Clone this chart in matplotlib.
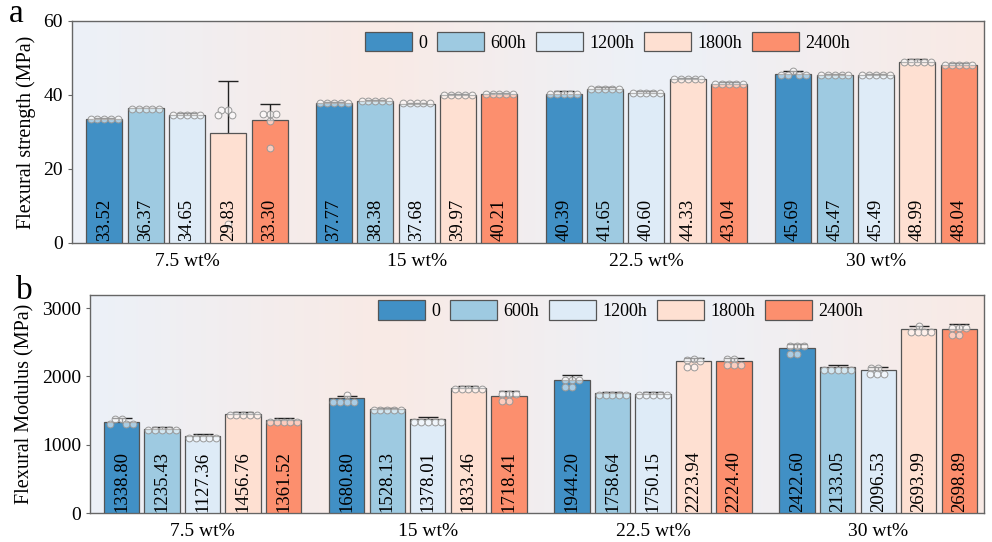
import matplotlib
matplotlib.use('Agg')
import matplotlib.pyplot as plt
import numpy as np
from matplotlib.colors import LinearSegmentedColormap

plt.rcParams['font.family'] = ['Liberation Serif', 'DejaVu Serif']

groups = ['7.5 wt%', '15 wt%', '22.5 wt%', '30 wt%']
times = ['0', '600h', '1200h', '1800h', '2400h']
colors = ['#4190c5', '#9ecae1', '#deebf7', '#fee0d2', '#fc8f6e']

# flexural strength (MPa), one row per group, one column per ageing time
strength_mean = [[33.52, 36.37, 34.65, 29.83, 33.30],
                 [37.77, 38.38, 37.68, 39.97, 40.21],
                 [40.39, 41.65, 40.60, 44.33, 43.04],
                 [45.69, 45.47, 45.49, 48.99, 48.04]]
strength_err = [[0.3, 0.2, 0.55, 13.9, 4.2],
                [0.45, 0.2, 0.2, 0.4, 0.2],
                [0.6, 0.55, 0.5, 0.3, 0.6],
                [0.7, 0.2, 0.3, 0.6, 0.65]]
strength_pts = [
    [[33.5, 33.5, 33.5, 33.5, 33.5], [36.3, 36.3, 36.3, 36.3, 36.3],
     [34.6, 34.6, 34.6, 34.6, 34.6], [36.0, 36.0, 34.5, 34.5, 5.0],
     [34.8, 34.8, 34.8, 32.9, 25.7]],
    [[37.7, 37.7, 37.7, 37.7, 37.7], [38.4, 38.4, 38.4, 38.4, 38.4],
     [37.7, 37.7, 37.7, 37.7, 37.7], [40.0, 40.0, 40.0, 40.0, 40.0],
     [40.2, 40.2, 40.2, 40.2, 40.2]],
    [[40.3, 40.3, 40.3, 40.3, 40.3], [41.6, 41.6, 41.6, 41.6, 41.6],
     [40.6, 40.6, 40.6, 40.6, 40.6], [44.3, 44.3, 44.3, 44.3, 44.3],
     [43.0, 43.0, 43.0, 43.0, 43.0]],
    [[46.5, 45.5, 45.5, 45.5, 45.5], [45.5, 45.5, 45.5, 45.5, 45.5],
     [45.5, 45.5, 45.5, 45.5, 45.5], [49.0, 49.0, 49.0, 49.0, 49.0],
     [48.0, 48.0, 48.0, 48.0, 48.0]],
]

# flexural modulus (MPa)
modulus_mean = [[1338.80, 1235.43, 1127.36, 1456.76, 1361.52],
                [1680.80, 1528.13, 1378.01, 1833.46, 1718.41],
                [1944.20, 1758.64, 1750.15, 2223.94, 2224.40],
                [2422.60, 2133.05, 2096.53, 2693.99, 2698.89]]
modulus_err = [[50, 25, 24, 27, 30],
               [32, 15, 27, 20, 62],
               [76, 17, 26, 50, 45],
               [56, 28, 35, 38, 72]]
modulus_pts = [
    [[1380, 1380, 1311, 1311, 1311], [1220, 1220, 1220, 1220, 1220],
     [1105, 1105, 1105, 1105, 1105], [1435, 1435, 1435, 1435, 1435],
     [1335, 1335, 1335, 1335, 1335]],
    [[1728, 1625, 1625, 1625, 1625], [1515, 1515, 1515, 1515, 1515],
     [1340, 1340, 1340, 1340, 1340], [1810, 1810, 1810, 1810, 1810],
     [1742, 1742, 1742, 1634, 1634]],
    [[1942, 1942, 1942, 1839, 1839], [1730, 1730, 1730, 1730, 1730],
     [1725, 1725, 1725, 1725, 1725], [2250, 2240, 2225, 2135, 2135],
     [2262, 2262, 2160, 2160, 2160]],
    [[2439, 2439, 2439, 2332, 2332], [2100, 2100, 2100, 2100, 2100],
     [2127, 2127, 2029, 2029, 2029], [2742, 2644, 2644, 2644, 2644],
     [2708, 2708, 2708, 2600, 2600]],
]

BG_BLUE = '#ecf1f8'
BG_PINK = '#f9eae5'


def swarm(ypix, d):
    # place points side by side so they do not overlap (pixel units)
    placed = []
    for y in ypix:
        cands = [0.0]
        for px, py in placed:
            dy = abs(y - py)
            if dy < d:
                dx = np.sqrt(d * d - dy * dy)
                cands += [px + dx, px - dx]
        cands = sorted(set(cands), key=lambda c: (abs(c), c))
        for c in cands:
            if all((c - px) ** 2 + (y - py) ** 2 >= d * d - 1e-6 for px, py in placed):
                break
        placed.append((c, y))
    return [p[0] for p in placed]


def draw_panel(ax, means, errs, pts, ylim, yticks, ylabel, leg_anchor, fmt):
    slot = 0.18
    width = 0.157
    xlim = (-0.5, 3.47)
    x = np.arange(len(groups))

    cmap = LinearSegmentedColormap.from_list(
        'bg', [(0, BG_BLUE), (0.33, BG_PINK), (0.64, BG_BLUE), (1, BG_PINK)])
    grad = np.linspace(0, 1, 400).reshape(1, -1)
    ax.imshow(grad, extent=[xlim[0], xlim[1], ylim[0], ylim[1]], aspect='auto',
              cmap=cmap, zorder=0, interpolation='bilinear')
    ax.set_xlim(*xlim)
    ax.set_ylim(*ylim)

    # pixel scale for the swarm points
    p0 = ax.transData.transform((0, 0))
    p1 = ax.transData.transform((1, 1))
    px_x = p1[0] - p0[0]
    px_y = p1[1] - p0[1]
    d = 6.8

    for j, t in enumerate(times):
        xs = x + (j - 2) * slot
        vals = [m[j] for m in means]
        e = [er[j] for er in errs]
        ax.errorbar(xs, vals, yerr=e, fmt='none', ecolor='#222', elinewidth=1,
                    capsize=7, capthick=1, zorder=2)
        ax.bar(xs, vals, width, color=colors[j], edgecolor='#555', linewidth=0.9,
               label=t, zorder=3)
        for i in range(len(groups)):
            ax.text(xs[i], ylim[1] * 0.008, fmt.format(vals[i]), rotation=90,
                    ha='center', va='bottom', fontsize=13.5, zorder=6)
            p = pts[i][j]
            offs = swarm([v * px_y for v in p], d)
            ax.scatter([xs[i] + o / px_x for o in offs], p, s=24,
                       facecolor=(1, 1, 1, 0.55), edgecolor='#999',
                       linewidth=0.7, zorder=5)

    ax.set_yticks(yticks)
    ax.set_xticks(x)
    ax.set_xticklabels(groups, fontsize=14)
    ax.tick_params(axis='x', length=0, pad=7)
    ax.tick_params(axis='y', labelsize=14, length=3, color='#666')
    for s in ax.spines.values():
        s.set_color('#666')
        s.set_linewidth(1)
    ax.set_ylabel(ylabel, fontsize=14.5, labelpad=5)
    ax.legend(loc='center', bbox_to_anchor=leg_anchor, ncol=5, frameon=False,
              handlelength=2.6, handleheight=1.3, columnspacing=0.55,
              handletextpad=0.35, fontsize=13)


def main():
    fig = plt.figure(figsize=(9.92, 5.42), dpi=100)
    ax1 = fig.add_axes([0.0726, 0.5517, 0.9194, 0.4096])
    ax2 = fig.add_axes([0.0907, 0.0530, 0.9013, 0.4027])

    draw_panel(ax1, strength_mean, strength_err, strength_pts, (0, 60),
               [0, 20, 40, 60], 'Flexural strength (MPa)', (0.587, 0.907), '{:.2f}')
    draw_panel(ax2, modulus_mean, modulus_err, modulus_pts, (0, 3190),
               [0, 1000, 2000, 3000], 'Flexural Modulus (MPa)', (0.593, 0.931), '{:.2f}')

    fig.text(9 / 992, 1 - 22 / 542, 'a', fontsize=24, va='baseline')
    fig.text(16 / 992, 1 - 299 / 542, 'b', fontsize=24, va='baseline')

    fig.savefig('out.png', dpi=100)


if __name__ == '__main__':
    main()
